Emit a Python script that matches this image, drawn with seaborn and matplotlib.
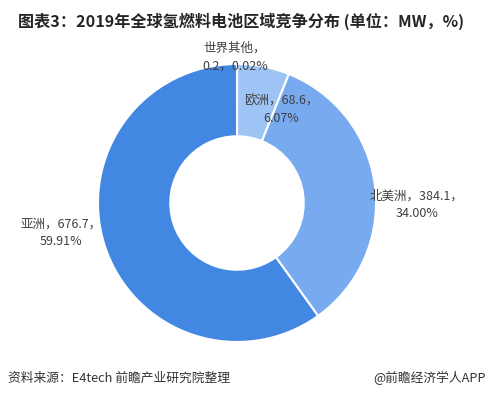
import matplotlib
matplotlib.use("Agg")
import matplotlib.pyplot as plt
import seaborn as sns

# data (MW, share %)
regions = ["世界其他", "欧洲", "北美洲", "亚洲"]
capacity = [0.2, 68.6, 384.1, 676.7]
shares = ["0.02%", "6.07%", "34.00%", "59.91%"]
colors = ["#9ec4f5", "#9ec4f5", "#78aaef", "#4287e2"]

sns.set_theme(style="white")
plt.rcParams["font.family"] = ["Noto Sans CJK SC", "DejaVu Sans"]

fig = plt.figure(figsize=(4.91, 3.97), dpi=100)
W, H = 491, 397
cx, cy, r = 237, 203, 139  # pie centre / radius in pixels (from top)
ax = fig.add_axes([(cx - r) / W, (H - cy - r) / H, 2 * r / W, 2 * r / H])

ax.pie(capacity, colors=colors, startangle=90, counterclock=False, radius=1,
       wedgeprops=dict(width=0.52, edgecolor="white", linewidth=1.5))
ax.set_xlim(-1, 1)
ax.set_ylim(-1, 1)
ax.set_aspect("equal")
ax.axis("off")

# label anchors in pixel coords of the reference
label_pos = [(235, 57), (281, 110), (417, 205), (61, 233)]
for name, val, pct, (px, py) in zip(regions, capacity, shares, label_pos):
    if name == "世界其他":
        txt = f"{name}，\n{val}，{pct}"
    else:
        txt = f"{name}，{val}，\n{pct}"
    ax.text((px - cx) / r, (cy - py) / r, txt, ha="center", va="center",
            fontsize=9, color="#404040", linespacing=1.45, zorder=5)

fig.text(18 / W, 1 - 21 / H, "图表3：2019年全球氢燃料电池区域竞争分布 (单位：MW，%)",
         ha="left", va="center", fontsize=11.6, fontweight="bold", color="#262626")
fig.text(8 / W, 1 - 378 / H, "资料来源：E4tech 前瞻产业研究院整理",
         ha="left", va="center", fontsize=9.2, color="#333333")
fig.text(486 / W, 1 - 378 / H, "@前瞻经济学人APP",
         ha="right", va="center", fontsize=9.2, color="#333333")

fig.savefig("out.png", dpi=100)
